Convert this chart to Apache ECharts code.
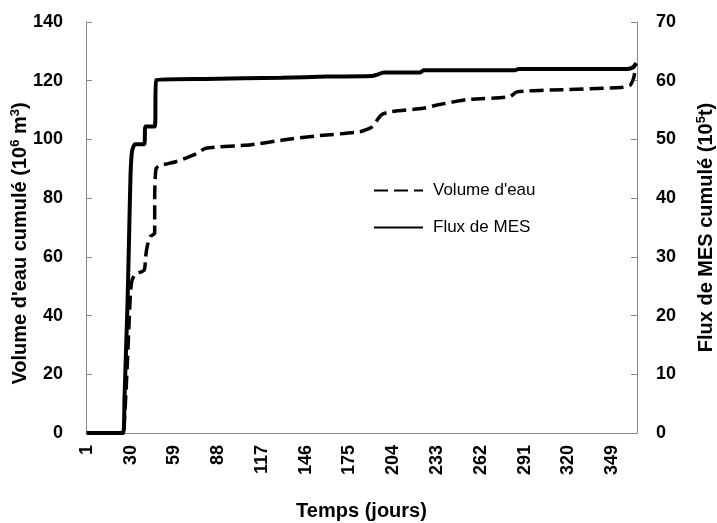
<!DOCTYPE html>
<html>
<head>
<meta charset="utf-8">
<script src="https://cdn.jsdelivr.net/npm/echarts@6/dist/echarts.min.js"></script>
<style>
    html, body { margin: 0; padding: 0; background: #fff; }
    #chart { width: 717px; height: 523px; }
</style>
</head>
<body>
<div id="chart"></div>
<script>
// jours 1..365 (axe des catégories)
var nbJours = 365;

// Volume d'eau cumulé (10^6 m3), axe de gauche
var volumeJours = [1, 25, 26, 27, 28, 29, 30, 31, 33, 39, 40, 41, 43, 46, 46, 47, 51, 60, 73, 80, 110, 131, 153, 182, 190, 196, 202, 224, 233, 253, 281, 286, 308, 355, 361, 363, 364];
var volumeValeurs = [0, 0, 5, 14, 25, 37, 48, 52, 54, 55.5, 60, 63.5, 66.9, 68, 80, 90.2, 91.3, 92.4, 95, 97, 98.2, 99.8, 101.2, 102.6, 104.3, 108.3, 109.4, 110.6, 111.7, 113.6, 114.5, 116.2, 116.8, 117.7, 118.5, 120.5, 122.6];

// Flux de MES cumulé (10^5 t), axe de droite
var fluxJours = [1, 25, 26, 27, 28, 29, 30, 31, 33, 39, 40, 46, 47, 80, 130, 160, 190, 193, 198, 222, 224, 285, 287, 359, 363, 365];
var fluxValeurs = [0, 0, 6, 14, 22, 33, 44, 48, 49.2, 49.2, 52.2, 52.2, 60.1, 60.3, 60.5, 60.7, 60.8, 61.0, 61.4, 61.4, 61.8, 61.8, 62.0, 62.0, 62.3, 63.0];

var jours = [];
for (var i = 1; i <= nbJours; i++) {
    jours.push(String(i));
}

function toPoints(days, values) {
    var pts = [];
    for (var i = 0; i < days.length; i++) {
        pts.push([days[i] - 1, values[i]]);
    }
    return pts;
}

var fontFamily = 'Liberation Sans, Arial, sans-serif';
var axisGray = '#898989';
var labelFont = {
    fontFamily: fontFamily,
    fontWeight: 'bold',
    fontSize: 18,
    color: '#000'
};

function nameStyle(padding) {
    return {
        fontFamily: fontFamily,
        fontWeight: 'bold',
        fontSize: 20,
        color: '#000',
        lineHeight: 22,
        padding: padding,
        rich: {
            sup: {
                fontFamily: fontFamily,
                fontWeight: 'bold',
                fontSize: 13,
                lineHeight: 13,
                color: '#000',
                verticalAlign: 'top'
            }
        }
    };
}

var option = {
    animation: false,
    backgroundColor: '#fff',
    grid: {
        left: 86,
        right: 80,
        top: 22,
        bottom: 90,
        containLabel: false,
        outerBoundsMode: 'none'
    },
    legend: {
        orient: 'vertical',
        left: 373,
        top: 182,
        padding: 0,
        itemWidth: 49,
        itemHeight: 14,
        itemGap: 20,
        itemStyle: { opacity: 0 },
        textStyle: {
            fontFamily: fontFamily,
            fontSize: 17,
            color: '#000',
            padding: [0, 0, 0, 5]
        },
        data: ["Volume d'eau", 'Flux de MES']
    },
    xAxis: {
        type: 'category',
        data: jours,
        boundaryGap: true,
        name: 'Temps (jours)',
        nameLocation: 'middle',
        nameGap: 67,
        nameMoveOverlap: false,
        nameTextStyle: nameStyle([0, 0, 0, 0]),
        axisLine: { lineStyle: { color: axisGray, width: 1 } },
        axisTick: { inside: true, length: 5, interval: 29, lineStyle: { color: axisGray } },
        axisLabel: Object.assign({ interval: 28, rotate: 90, margin: 12 }, labelFont),
        splitLine: { show: false }
    },
    yAxis: [
        {
            type: 'value',
            min: 0,
            max: 140,
            interval: 20,
            name: "Volume d'eau cumulé (10{sup|6} m{sup|3})",
            nameLocation: 'middle',
            nameGap: 55,
            nameMoveOverlap: false,
            nameTextStyle: nameStyle([0, 32, 0, 0]),
            axisLine: { show: true, lineStyle: { color: axisGray, width: 1 } },
            axisTick: { show: true, inside: true, length: 6, lineStyle: { color: axisGray } },
            axisLabel: Object.assign({ margin: 23 }, labelFont),
            splitLine: { show: false }
        },
        {
            type: 'value',
            min: 0,
            max: 70,
            interval: 10,
            name: 'Flux de MES cumulé (10{sup|5}t)',
            nameLocation: 'middle',
            nameGap: 58,
            nameRotate: 90,
            nameMoveOverlap: false,
            nameTextStyle: nameStyle([0, 0, 0, 0]),
            axisLine: { show: true, lineStyle: { color: axisGray, width: 1 } },
            axisTick: { show: true, inside: true, length: 6, lineStyle: { color: axisGray } },
            axisLabel: Object.assign({ margin: 19 }, labelFont),
            splitLine: { show: false }
        }
    ],
    series: [
        {
            name: "Volume d'eau",
            type: 'line',
            yAxisIndex: 0,
            data: toPoints(volumeJours, volumeValeurs),
            symbol: 'none',
            smooth: 0.2,
            lineStyle: { color: '#000', width: 3.5, type: [14, 6] },
            itemStyle: { color: '#000' }
        },
        {
            name: 'Flux de MES',
            type: 'line',
            yAxisIndex: 1,
            data: toPoints(fluxJours, fluxValeurs),
            symbol: 'none',
            smooth: 0.2,
            lineStyle: { color: '#000', width: 4 },
            itemStyle: { color: '#000' }
        }
    ]
};

var myChart = echarts.init(document.getElementById('chart'), null, { renderer: 'canvas' });
myChart.setOption(option);
</script>
</body>
</html>
